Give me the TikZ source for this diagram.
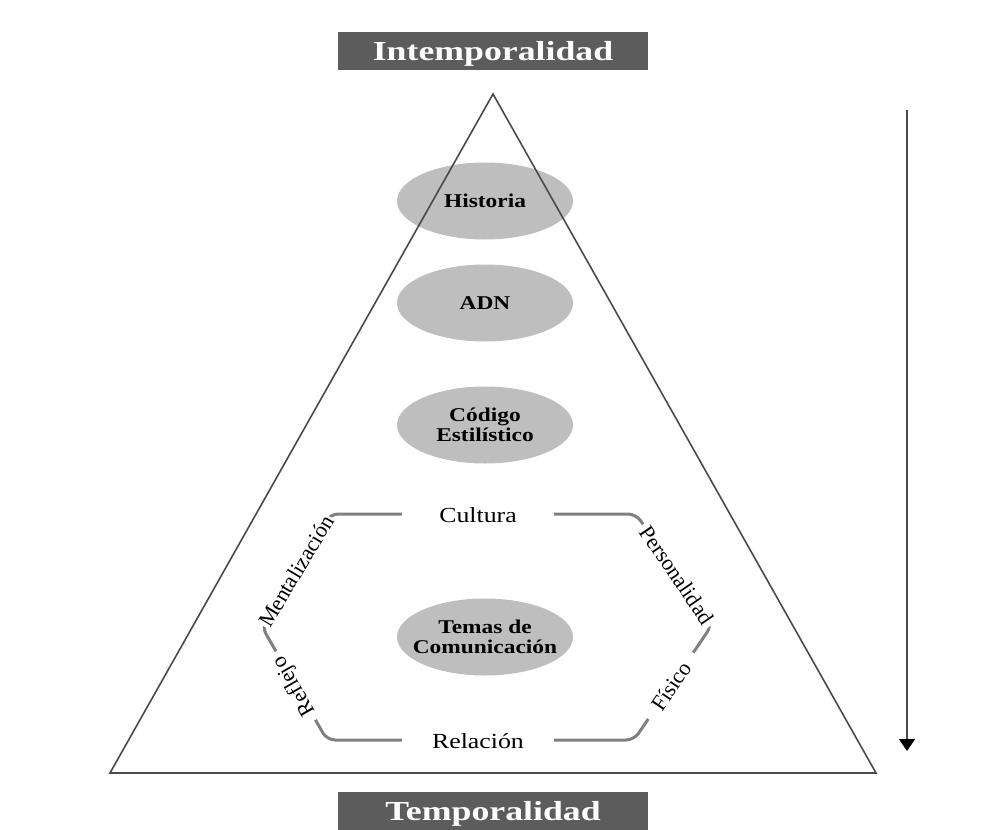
\documentclass[tikz,border=0pt]{standalone}
\usepackage{fontspec}
\setmainfont{Liberation Serif}
\usetikzlibrary{shapes.geometric,arrows.meta}

\definecolor{bandgray}{HTML}{5C5C5C}
\definecolor{ovalgray}{HTML}{BEBEBE}
\definecolor{hexgray}{HTML}{808080}
\definecolor{edgegray}{HTML}{4A4A4A}

\tikzset{
  band/.style={fill=bandgray, text=white, inner sep=0pt,
    minimum width=238.5pt, minimum height=38pt, xscale=1.3,
    text height=18.5pt, text depth=0pt,
    font=\fontsize{27.5}{30}\selectfont\bfseries},
  oval/.style={ellipse, fill=ovalgray, inner sep=0pt,
    minimum width=176pt, minimum height=77pt},
  ovaltext/.style={inner sep=0pt, xscale=1.2, align=center,
    font=\fontsize{19.5}{20.5}\selectfont\bfseries},
  ring/.style={draw=hexgray, line width=3pt, rounded corners=8pt},
  tag/.style={fill=white, inner ysep=2pt, xscale=1.2,
    font=\fontsize{21.5}{24}\selectfont},
  sidetag/.style={fill=white, inner ysep=2pt,
    font=\fontsize{22}{24}\selectfont},
  pyramid/.style={draw=edgegray, line width=1.6pt, line join=miter},
  flow/.style={draw=edgegray, line width=1.6pt,
    -{Triangle[width=16pt,length=12pt,black]}},
}

\begin{document}
\begin{tikzpicture}[x=1pt,y=-1pt]
  \useasboundingbox (0,0) rectangle (983,830);

  % hexagon of communication dimensions
  \coordinate (hT)  at (480,514);
  \coordinate (hTR) at (636,514);
  \coordinate (hR)  at (712,625);
  \coordinate (hBR) at (634,740);
  \coordinate (hBL) at (327,740);
  \coordinate (hL)  at (262,627);
  \coordinate (hTL) at (330,514);
  \draw[ring] (hT) -- (hTR) -- (hR) -- (hBR) -- (hBL) -- (hL) -- (hTL) -- cycle;

  % labels sitting on the hexagon edges
  \node[tag, inner xsep=31pt] (cult) at (478,515) {Cultura};
  \node[tag, inner xsep=25pt] (rel)  at (478,741) {Relación};
  \node[sidetag, inner xsep=1pt, rotate=59]    (ment) at (296,571) {Mentalización};
  \node[sidetag, inner xsep=7pt, rotate=120]   (refl) at (295,686) {Reflejo};
  \node[sidetag, inner xsep=4pt, rotate=-55.6] (pers) at (677,575) {Personalidad};
  \node[sidetag, inner xsep=13pt, rotate=55.8] (fis)  at (671,686) {Físico};

  % central ovals and their captions
  \node[oval] (hist) at (485,201) {};
  \node[oval] (adn)  at (485,303) {};
  \node[oval] (cod)  at (485,425) {};
  \node[oval] (tem)  at (485,637) {};
  \node[ovaltext] (histtxt) at (hist) {Historia};
  \node[ovaltext] (adntxt)  at (adn)  {ADN};
  \node[ovaltext] (codtxt)  at (cod)  {Código\\Estilístico};
  \node[ovaltext] (temtxt)  at (tem)  {Temas de\\Comunicación};

  % pyramid outline
  \coordinate (apex) at (493,94);
  \coordinate (bl)   at (110,773);
  \coordinate (br)   at (876,773);
  \draw[pyramid] (apex) -- (bl) -- (br) -- cycle;

  % time direction arrow
  \coordinate (atop) at (907,110);
  \coordinate (abot) at (907,751);
  \draw[flow] (atop) -- (abot);

  % top and bottom bands
  \node[band] (intemp) at (493,51)  {Intemporalidad};
  \node[band] (temp)   at (493,811) {Temporalidad};
\end{tikzpicture}
\end{document}
